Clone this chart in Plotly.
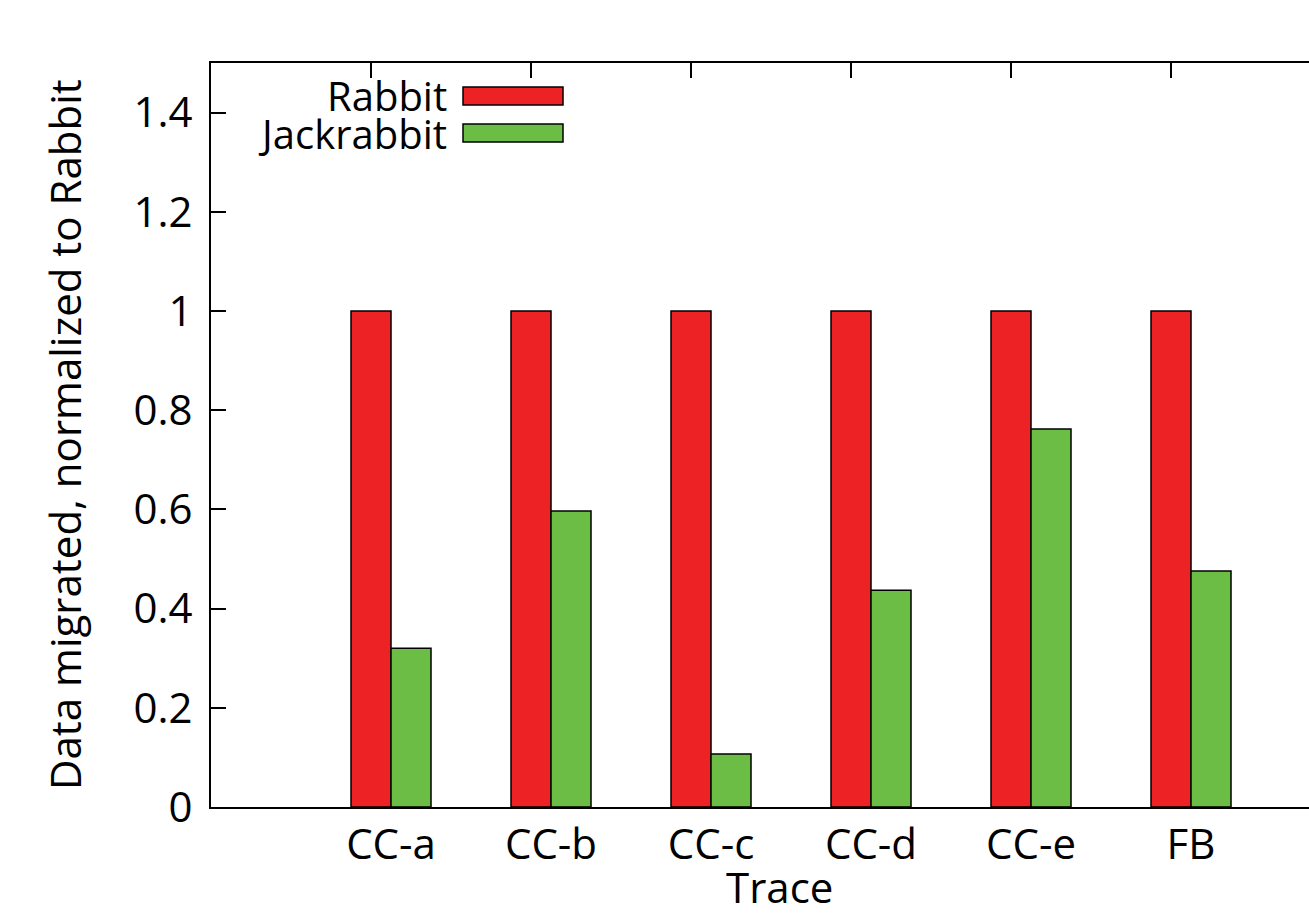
import plotly.graph_objects as go

# Traces and normalized data migrated per policy
categories = ["CC-a", "CC-b", "CC-c", "CC-d", "CC-e", "FB"]
rabbit = [1.0, 1.0, 1.0, 1.0, 1.0, 1.0]
jackrabbit = [0.32, 0.597, 0.107, 0.437, 0.762, 0.476]
y_ticks = [0, 0.2, 0.4, 0.6, 0.8, 1.0, 1.2, 1.4]
y_tick_text = ["0", "0.2", "0.4", "0.6", "0.8", "1", "1.2", "1.4"]

RED = "rgb(237,34,36)"
GREEN = "rgb(108,189,69)"
FONT = "Open Sans"
FS = 42

W, H = 1309, 915
ML, MR, MT, MB = 211, 0, 63, 108
PW, PH = W - ML - MR, H - MT - MB

BAR_W = 0.25
idx = list(range(len(categories)))

fig = go.Figure()
fig.add_trace(go.Bar(
    x=[i - BAR_W / 2 for i in idx], y=rabbit, width=BAR_W, name="Rabbit",
    marker=dict(color=RED, line=dict(color="black", width=1.5)),
))
fig.add_trace(go.Bar(
    x=[i + BAR_W / 2 for i in idx], y=jackrabbit, width=BAR_W, name="Jackrabbit",
    marker=dict(color=GREEN, line=dict(color="black", width=1.5)),
))


def px_x(px):
    return (px - ML) / PW


def px_y(py):
    return (H - MB - py) / PH


# Key: right-aligned labels followed by colour swatches
key_rows = [("Rabbit", RED, 96), ("Jackrabbit", GREEN, 133)]
for label, color, yc in key_rows:
    fig.add_annotation(text=label, xref="paper", yref="paper",
                       x=px_x(449), y=px_y(yc), xanchor="right", yanchor="middle",
                       showarrow=False, font=dict(family=FONT, size=40, color="black"))
    fig.add_shape(type="rect", xref="paper", yref="paper",
                  x0=px_x(463), x1=px_x(563), y0=px_y(yc - 9), y1=px_y(yc + 9),
                  fillcolor=color, line=dict(color="black", width=1.5))

fig.add_annotation(text="Data migrated, normalized to Rabbit", xref="paper", yref="paper",
                   x=px_x(64), y=px_y(435), textangle=-90, xanchor="center", yanchor="middle",
                   showarrow=False, font=dict(family=FONT, size=FS, color="black"))
fig.add_annotation(text="Trace", xref="paper", yref="paper",
                   x=px_x(779), y=px_y(887), xanchor="center", yanchor="middle",
                   showarrow=False, font=dict(family=FONT, size=FS, color="black"))

fig.update_layout(
    width=W, height=H, autosize=False,
    margin=dict(l=ML, r=MR, t=MT, b=MB),
    paper_bgcolor="white", plot_bgcolor="white",
    showlegend=False, barmode="overlay",
    font=dict(family=FONT, size=FS, color="black"),
)
fig.update_xaxes(
    range=[-1.125, -1.125 + PW / 160], tickmode="array",
    tickvals=[i - BAR_W / 2 for i in idx], ticktext=categories,
    ticks="inside", ticklen=15, tickwidth=1.5, tickcolor="black",
    ticklabelshift=20,
    showline=True, linecolor="black", linewidth=2, mirror="ticks",
    showgrid=False, zeroline=False, layer="below traces",
    tickfont=dict(family=FONT, size=FS, color="black"),
)
fig.update_yaxes(
    range=[0, 1.5], tickmode="array", tickvals=y_ticks, ticktext=y_tick_text,
    ticks="inside", ticklen=15, tickwidth=1.5, tickcolor="black",
    ticklabelstandoff=8,
    showline=True, linecolor="black", linewidth=2, mirror=False,
    showgrid=False, zeroline=False,
    tickfont=dict(family=FONT, size=FS, color="black"),
)

fig.write_html("out.html")
